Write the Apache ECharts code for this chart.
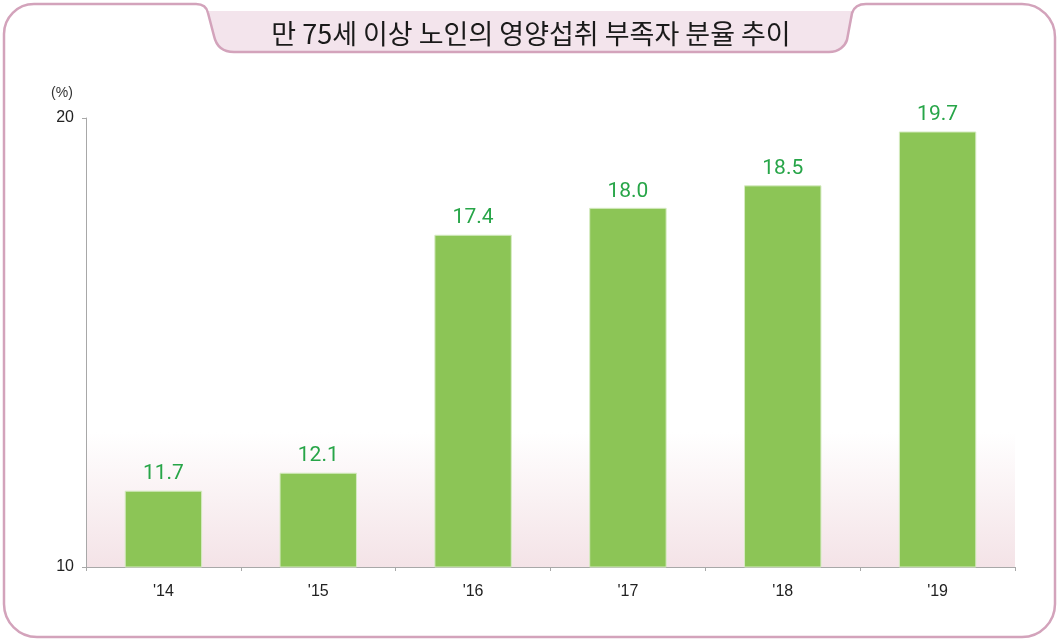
<!DOCTYPE html>
<html><head><meta charset="utf-8">
<script src="https://cdn.jsdelivr.net/npm/echarts@6/dist/echarts.min.js"></script>
<style>html,body{margin:0;padding:0;background:#fff}#c{width:1057px;height:641px}</style>
</head><body><div id="c"></div>
<script>
const categories = ["'14", "'15", "'16", "'17", "'18", "'19"];
const values = [11.7, 12.1, 17.4, 18.0, 18.5, 19.7];
const titleText = '만 75세 이상 노인의 영양섭취 부족자 분율 추이';
const unitText = '(%)';

const P = Math.PI;
echarts.graphic.registerShape('frameBorder', echarts.graphic.extendShape({
  shape: {},
  buildPath(ctx) {
    ctx.moveTo(4, 34);
    ctx.arc(34, 34, 30, P, 1.5 * P, false);
    ctx.lineTo(196, 4);
    ctx.bezierCurveTo(204, 4, 207, 8, 208, 13);
    ctx.lineTo(214, 36);
    ctx.bezierCurveTo(216, 45, 222, 52, 234, 52);
    ctx.lineTo(829, 52);
    ctx.bezierCurveTo(839, 52, 845, 46, 847, 40);
    ctx.lineTo(852, 13);
    ctx.bezierCurveTo(854, 7, 858, 4, 866, 4);
    ctx.lineTo(1022, 4);
    ctx.arc(1022, 37, 33, 1.5 * P, 2 * P, false);
    ctx.lineTo(1055, 604);
    ctx.arc(1022, 604, 33, 0, 0.5 * P, false);
    ctx.lineTo(37, 637);
    ctx.arc(37, 604, 33, 0.5 * P, P, false);
    ctx.closePath();
  }
}));
echarts.graphic.registerShape('titleTab', echarts.graphic.extendShape({
  shape: {},
  buildPath(ctx) {
    ctx.moveTo(208, 11);
    ctx.lineTo(854, 11);
    ctx.lineTo(847, 40);
    ctx.bezierCurveTo(845, 46, 839, 52, 829, 52);
    ctx.lineTo(234, 52);
    ctx.bezierCurveTo(222, 52, 216, 45, 214, 36);
    ctx.closePath();
  }
}));

const chart = echarts.init(document.getElementById('c'));
chart.setOption({
  animation: false,
  grid: { left: 86, right: 42, top: 118, bottom: 74 },
  graphic: [
    { type: 'titleTab', shape: {}, style: { fill: '#f3e4ec', stroke: null }, z: 0, silent: true },
    { type: 'frameBorder', shape: {}, style: { fill: null, stroke: '#d3a3bb', lineWidth: 2.5 }, z: 1, silent: true },
    { type: 'text', x: 531, y: 34, style: { text: titleText, font: '27px "Noto Sans CJK KR"', fill: '#1a1a1a', textAlign: 'center', textVerticalAlign: 'middle' }, z: 2 },
    { type: 'text', x: 62, y: 93, style: { text: unitText, font: '14px "Liberation Sans", Arial', fill: '#333', textAlign: 'center', textVerticalAlign: 'middle' }, z: 2 },
    { type: 'rect', shape: { x: 86, y: 118, width: 929, height: 449 }, style: { fill: { type: 'linear', x: 0, y: 0, x2: 0, y2: 1, colorStops: [
      { offset: 0, color: '#ffffff' }, { offset: 0.7, color: '#ffffff' }, { offset: 1, color: '#f4e3e7' }] } }, z: -1, silent: true }
  ],
  xAxis: {
    type: 'category', data: categories,
    axisLine: { lineStyle: { color: '#a8a8a8', width: 1 } },
    axisTick: { show: true, length: 4, lineStyle: { color: '#a8a8a8' } },
    axisLabel: { color: '#222', fontSize: 16, margin: 17, fontFamily: '"Liberation Sans", Arial' }
  },
  yAxis: {
    type: 'value', min: 10, max: 20, interval: 10,
    splitLine: { show: false },
    axisLine: { show: true, lineStyle: { color: '#a8a8a8', width: 1 } },
    axisTick: { show: true, length: 4, lineStyle: { color: '#a8a8a8' } },
    axisLabel: { color: '#222', fontSize: 16, margin: 12, fontFamily: '"Liberation Sans", Arial' }
  },
  series: [{
    type: 'bar', data: values, barWidth: '50%',
    itemStyle: { color: '#8cc556', borderColor: '#d6ebc2', borderWidth: 1 },
    label: { show: true, position: 'top', distance: 6, color: '#27a548', fontSize: 21, fontWeight: 'normal',
      fontFamily: 'Roboto, "Noto Sans", sans-serif', formatter: p => p.value.toFixed(1) }
  }]
});
</script></body></html>
